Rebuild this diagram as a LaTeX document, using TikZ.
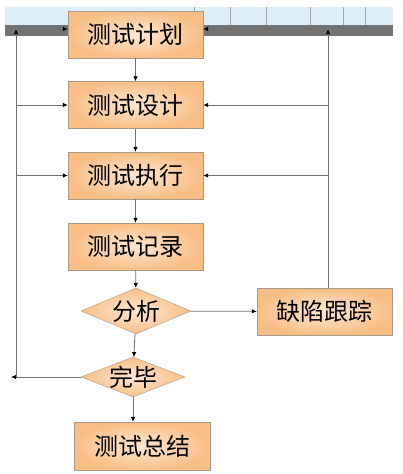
\documentclass[tikz,border=0pt]{standalone}
\usepackage{fontspec}
\newfontfamily\cjk{Noto Sans CJK SC}
\usetikzlibrary{shapes.geometric,arrows.meta}
\definecolor{boxedge}{HTML}{A89888}
\definecolor{boxin}{HTML}{FFE8D2}
\definecolor{boxout}{HTML}{F8BE86}
\definecolor{linegray}{HTML}{707070}
\definecolor{stripblue}{HTML}{DDEFFA}
\begin{document}
\begin{tikzpicture}[
  x=1pt, y=-1pt,
  every node/.style={font=\cjk\fontsize{24}{28}\selectfont, inner sep=0pt},
  stepbox/.style={draw=boxedge, rectangle, inner color=boxin, outer color=boxout, minimum width=135pt, minimum height=47pt},
  decision/.style={draw=boxedge, diamond, inner color=boxin, outer color=boxout},
  flow/.style={draw=linegray, line width=0.8pt, -{Latex[length=5pt,width=4.5pt,black]}}
]
\useasboundingbox (0,0) rectangle (403,474);
% screen strip behind the top
\fill[stripblue] (5,7) rectangle (393,25);
\foreach \xx in {194,230,266,310,343,365}
  \draw[black!35, line width=1pt] (\xx,7) -- (\xx,25);
\fill[black!55] (5,25) rectangle (393,36);

\node[stepbox] (plan) at (135.5,34.5) {测试计划};
\node[stepbox] (design) at (135.5,105) {测试设计};
\node[stepbox] (exec) at (135.5,175.5) {测试执行};
\node[stepbox] (record) at (135.5,246.5) {测试记录};
\node[decision, minimum width=110pt, minimum height=46pt] (analyze) at (136,311) {\makebox[0pt]{分析}};
\node[stepbox] (track) at (324.5,311.5) {缺陷跟踪};
\node[decision, minimum width=104pt, minimum height=40pt] (done) at (133,377) {\makebox[0pt]{完毕}};
\node[stepbox, minimum width=136pt, minimum height=48pt] (summary) at (142,446) {测试总结};

\coordinate (ltop) at (16,29);
\coordinate (lbot) at (16,377);
\coordinate (lend) at (11,377);
\coordinate (rtop) at (328,29);

\draw[flow] (plan) -- (design);
\draw[flow] (design) -- (exec);
\draw[flow] (exec) -- (record);
\draw[flow] (record) -- (analyze);
\draw[flow] (analyze) -- (done);
\draw[flow] (done.south) -- (done.south |- summary.north);
\draw[flow] (analyze) -- (track);

\draw[flow] (track.north -| rtop) -- (rtop);
\draw[flow] (rtop) -- (rtop -| plan.east);
\draw[flow] (rtop |- design) -- (design.east);
\draw[flow] (rtop |- exec) -- (exec.east);

\draw[flow] (done) -- (lend);
\draw[flow] (lbot) -- (ltop);
\draw[flow] (ltop) -- (ltop -| plan.west);
\draw[flow] (ltop |- design) -- (design.west);
\draw[flow] (ltop |- exec) -- (exec.west);
\end{tikzpicture}
\end{document}
